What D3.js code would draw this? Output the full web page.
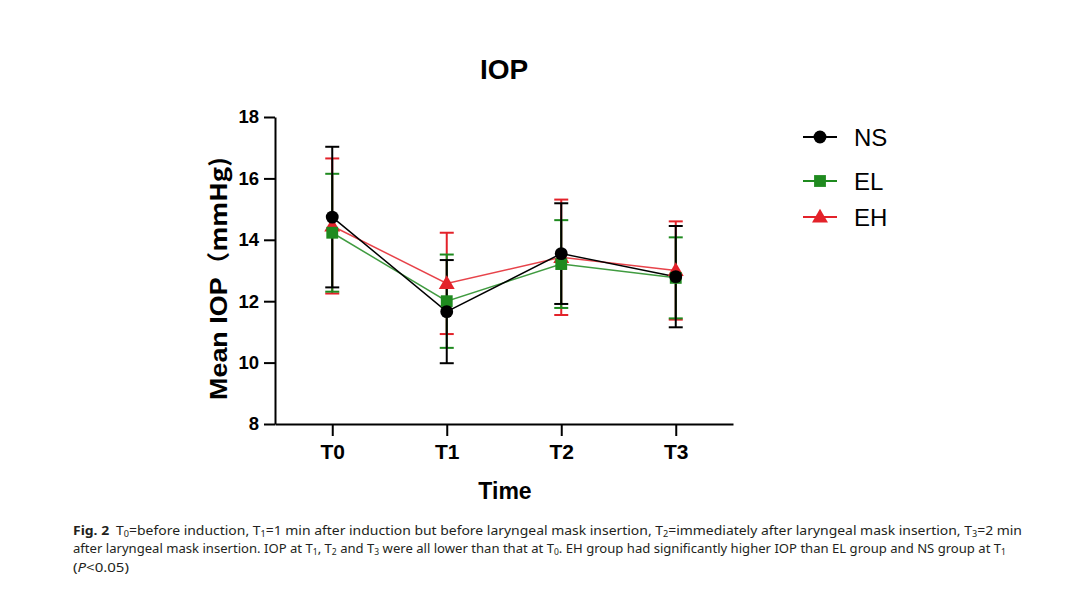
<!DOCTYPE html>
<html>
<head>
<meta charset="utf-8">
<script src="https://cdn.jsdelivr.net/npm/d3@7"></script>
<style>
  html, body { margin: 0; padding: 0; background: #fff; }
  svg { display: block; }
</style>
</head>
<body>
<svg id="chart" width="1080" height="593"></svg>
<script>
const categories = ["T0", "T1", "T2", "T3"];
const yTicks = [8, 10, 12, 14, 16, 18];
const seriesNames = ["NS", "EL", "EH"];
const nsMean = [14.74, 11.66, 13.55, 12.80];
const nsSD   = [2.29, 1.68, 1.64, 1.65];
const elMean = [14.23, 12.00, 13.21, 12.76];
const elSD   = [1.92, 1.52, 1.43, 1.32];
const ehMean = [14.45, 12.58, 13.43, 13.00];
const ehSD   = [2.20, 1.65, 1.88, 1.60];

const colors = { NS: "#000000", EL: "#1f8a1f", EH: "#e3222a" };
const series = [
  { name: "EH", mean: ehMean, sd: ehSD, shape: d3.symbolTriangle, size: 110 },
  { name: "EL", mean: elMean, sd: elSD, shape: d3.symbolSquare, size: 140 },
  { name: "NS", mean: nsMean, sd: nsSD, shape: d3.symbolCircle, size: 130 }
];

const svg = d3.select("#chart");
const font = "Arial, 'Liberation Sans', sans-serif";

const x = d3.scalePoint().domain(categories).range([275, 733]).padding(0.5);
const y = d3.scaleLinear().domain([8, 18]).range([424, 117]);

// Title
svg.append("text").attr("x", 504).attr("y", 79).attr("text-anchor", "middle")
  .attr("font-family", font).attr("font-weight", "bold").attr("font-size", 28)
  .attr("fill", "#000").text("IOP");

// Y axis
const yAxis = svg.append("g").attr("transform", "translate(275,0)")
  .call(d3.axisLeft(y).tickValues(yTicks).tickSize(11).tickSizeOuter(0).tickPadding(5));
yAxis.select(".domain").attr("stroke", "#000").attr("stroke-width", 2);
yAxis.selectAll(".tick line").attr("stroke", "#000").attr("stroke-width", 2);
yAxis.selectAll(".tick text").attr("font-family", font).attr("font-weight", "bold")
  .attr("font-size", 18.5).attr("fill", "#000");

// X axis
const xAxis = svg.append("g").attr("transform", "translate(0,424)")
  .call(d3.axisBottom(x).tickSize(12).tickSizeOuter(0).tickPadding(8));
xAxis.select(".domain").attr("stroke", "#000").attr("stroke-width", 2);
xAxis.selectAll(".tick line").attr("stroke", "#000").attr("stroke-width", 2);
xAxis.selectAll(".tick text").attr("font-family", font).attr("font-weight", "bold")
  .attr("font-size", 21).attr("fill", "#000");

// Axis titles
svg.append("text").attr("x", 505).attr("y", 499).attr("text-anchor", "middle")
  .attr("font-family", font).attr("font-weight", "bold").attr("font-size", 23)
  .attr("fill", "#000").text("Time");

const yl = svg.append("text").attr("transform", "translate(227,278.5) rotate(-90)")
  .attr("text-anchor", "middle").attr("font-family", font).attr("font-size", 24)
  .attr("textLength", 243).attr("lengthAdjust", "spacingAndGlyphs")
  .attr("fill", "#000");
yl.append("tspan").attr("font-weight", "bold").text("Mean IOP");
yl.append("tspan").attr("font-family", "'Noto Sans CJK SC', " + font).attr("font-weight", "bold")
  .attr("font-size", 23).text("（mmHg)");

// Lines
const line = d3.line().x((d, i) => x(categories[i])).y(d => y(d));
series.forEach(s => {
  svg.append("path").datum(s.mean).attr("d", line).attr("fill", "none")
    .attr("stroke", colors[s.name]).attr("stroke-width", 1.5).attr("opacity", s.name === "NS" ? 1 : 0.85);
});

// Error bars
const capW = 7;
series.forEach(s => {
  const g = svg.append("g");
  categories.forEach((c, i) => {
    const cx = x(c), hi = y(s.mean[i] + s.sd[i]), lo = y(s.mean[i] - s.sd[i]);
    g.append("line").attr("x1", cx).attr("x2", cx).attr("y1", hi).attr("y2", lo)
      .attr("stroke", colors[s.name]).attr("stroke-width", 2);
    [hi, lo].forEach(yy => g.append("line").attr("x1", cx - capW).attr("x2", cx + capW)
      .attr("y1", yy).attr("y2", yy).attr("stroke", colors[s.name]).attr("stroke-width", 2));
  });
});

// Markers
series.forEach(s => {
  svg.append("g").selectAll("path").data(s.mean).join("path")
    .attr("transform", (d, i) => `translate(${x(categories[i])},${y(d) + (s.name === "EH" ? 1 : 0)})`)
    .attr("d", d3.symbol().type(s.shape).size(s.size))
    .attr("fill", colors[s.name]);
});

// Legend
const legendY = { NS: 137, EL: 181, EH: 217 };
const legendOrder = ["NS", "EL", "EH"];
legendOrder.forEach(name => {
  const s = series.find(d => d.name === name);
  const ly = legendY[name];
  svg.append("line").attr("x1", 803).attr("x2", 837).attr("y1", ly).attr("y2", ly)
    .attr("stroke", colors[name]).attr("stroke-width", 1.8);
  svg.append("path").attr("transform", `translate(820,${ly + (name === "EH" ? 1 : 0)})`)
    .attr("d", d3.symbol().type(s.shape).size(s.size)).attr("fill", colors[name]);
  svg.append("text").attr("x", 854).attr("y", ly + 8.5).attr("font-family", font)
    .attr("font-size", 24).attr("fill", "#000").text(name);
});

// Caption
const capFont = "'Noto Sans', 'Open Sans', sans-serif";
const capColor = "#231f20";
function capLine(yPos, parts, width) {
  const t = svg.append("text").attr("x", 73).attr("y", yPos).attr("font-family", capFont)
    .attr("font-size", 13).attr("fill", capColor);
  if (width) t.attr("textLength", width).attr("lengthAdjust", "spacingAndGlyphs");
  parts.forEach(p => {
    const ts = t.append("tspan").text(p.t);
    if (p.b) ts.attr("font-weight", "bold");
    if (p.i) ts.attr("font-style", "italic");
    if (p.sub) ts.attr("font-size", 8.5).attr("dy", 2);
    if (p.up) ts.attr("dy", -2);
  });
}
capLine(535, [
  { t: "Fig. 2", b: true }, { t: "\u2002T" }, { t: "0", sub: true }, { t: "=before induction, T", up: true },
  { t: "1", sub: true }, { t: "=1 min after induction but before laryngeal mask insertion, T", up: true },
  { t: "2", sub: true }, { t: "=immediately after laryngeal mask insertion, T", up: true },
  { t: "3", sub: true }, { t: "=2 min", up: true }
], 949);
capLine(553, [
  { t: "after laryngeal mask insertion. IOP at T" }, { t: "1", sub: true }, { t: ", T", up: true },
  { t: "2", sub: true }, { t: " and T", up: true }, { t: "3", sub: true },
  { t: " were all lower than that at T", up: true }, { t: "0", sub: true },
  { t: ". EH group had significantly higher IOP than EL group and NS group at T", up: true },
  { t: "1", sub: true }
], 933);
capLine(572, [{ t: "(" }, { t: "P", i: true }, { t: "<0.05)" }], 56);
</script>
</body>
</html>
